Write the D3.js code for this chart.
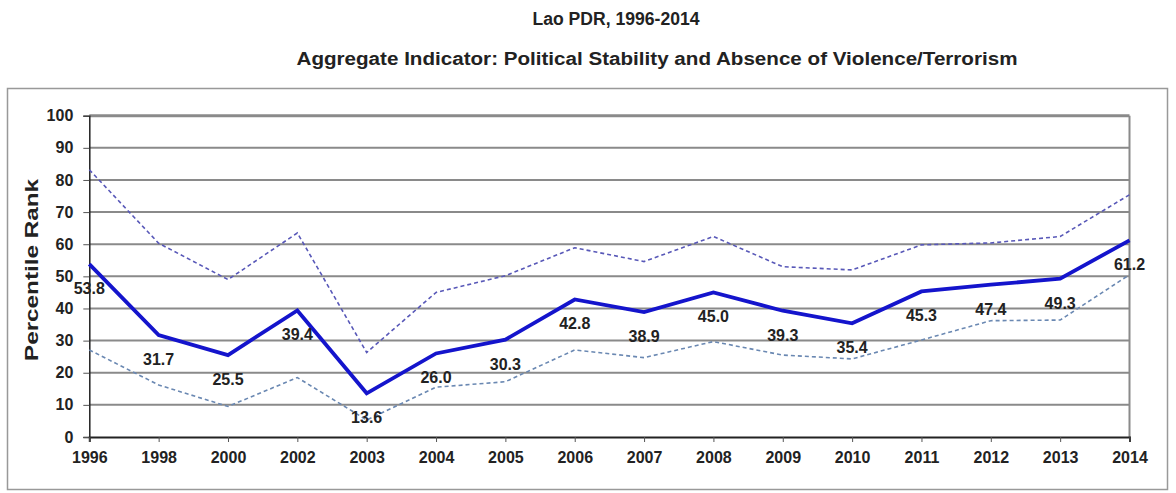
<!DOCTYPE html>
<html><head><meta charset="utf-8">
<script src="https://cdn.jsdelivr.net/npm/d3@7/dist/d3.min.js"></script>
<style>body{margin:0;background:#fff}svg{display:block}text{font-family:"Liberation Sans",Arial,sans-serif;font-weight:bold;fill:#222}</style>
</head><body><svg id="c" width="1176" height="493"></svg>
<script>
const categories = ["1996","1998","2000","2002","2003","2004","2005","2006","2007","2008","2009","2010","2011","2012","2013","2014"];
const estimate = [53.8,31.7,25.5,39.4,13.6,26.0,30.3,42.8,38.9,45.0,39.3,35.4,45.3,47.4,49.3,61.2];
const upper = [83.2,60.3,49.0,63.5,26.3,45.0,50.2,58.9,54.6,62.4,53.0,52.0,59.8,60.4,62.4,75.4];
const lower = [27.1,16.2,9.5,18.5,5.3,15.5,17.2,27.1,24.7,29.7,25.5,24.3,30.2,36.2,36.4,50.5];
const yTicks = [0,10,20,30,40,50,60,70,80,90,100];
const title1 = "Lao PDR, 1996-2014";
const title2 = "Aggregate Indicator: Political Stability and Absence of Violence/Terrorism";
const yLabel = "Percentile Rank";

const svg = d3.select("#c");
const L = 89.3, R = 1129.5, T = 115.7, B = 437;
const x = d3.scalePoint().domain(categories).range([L, R]);
const y = d3.scaleLinear().domain([0,100]).range([B, T]);

svg.append("rect").attr("x",7.5).attr("y",88.5).attr("width",1160).attr("height",401)
  .attr("fill","none").attr("stroke","#999").attr("stroke-width",1.5);

svg.append("text").attr("x",616).attr("y",25).attr("text-anchor","middle").style("font-size","18px")
  .attr("textLength",167).attr("lengthAdjust","spacingAndGlyphs").text(title1);
svg.append("text").attr("x",657).attr("y",65).attr("text-anchor","middle").style("font-size","18px")
  .attr("textLength",721).attr("lengthAdjust","spacingAndGlyphs").text(title2);

svg.append("g").selectAll("line").data(yTicks.filter(d=>d>0)).join("line")
  .attr("x1",L).attr("x2",R).attr("y1",d=>y(d)).attr("y2",d=>y(d))
  .attr("stroke","#8a8a8a").attr("stroke-width",d=>d===100?3:2);
svg.append("line").attr("x1",R).attr("x2",R).attr("y1",T).attr("y2",B).attr("stroke","#8a8a8a").attr("stroke-width",2);

const ya = svg.append("g").attr("transform",`translate(${L},0)`)
  .call(d3.axisLeft(y).tickValues(yTicks).tickSize(6).tickPadding(10));
ya.select(".domain").attr("stroke","#222").attr("stroke-width",1.5);
ya.selectAll(".tick line").attr("stroke","#555");
ya.selectAll("text").attr("font-size",16).style("font-size","16px").style("font-family","Liberation Sans, Arial").style("font-weight","bold").attr("fill","#222");

const xa = svg.append("g").attr("transform",`translate(0,${B})`)
  .call(d3.axisBottom(x).tickSize(5).tickPadding(10));
xa.select(".domain").attr("stroke","#222").attr("stroke-width",2);
xa.selectAll(".tick line").attr("stroke","#555");
xa.selectAll("text").attr("font-size",16).style("font-size","16px").style("font-family","Liberation Sans, Arial").style("font-weight","bold").attr("fill","#222");

svg.append("text").attr("transform",`translate(38,${270}) rotate(-90)`).attr("text-anchor","middle")
  .style("font-size","18px").attr("textLength",182).attr("lengthAdjust","spacingAndGlyphs").text(yLabel);

const line = d3.line().x((d,i)=>x(categories[i])).y(d=>y(d));
svg.append("path").datum(upper).attr("d",line).attr("fill","none").attr("stroke","#5858b8").attr("stroke-width",1.6).attr("stroke-dasharray","4,3");
svg.append("path").datum(lower).attr("d",line).attr("fill","none").attr("stroke","#6a88b2").attr("stroke-width",1.6).attr("stroke-dasharray","4,3");
svg.append("path").datum(estimate).attr("d",line).attr("fill","none").attr("stroke","#1414cc").attr("stroke-width",3.8).attr("stroke-linejoin","miter");

svg.append("g").selectAll("text").data(estimate).join("text")
  .attr("x",(d,i)=>x(categories[i])).attr("y",d=>y(d)+30)
  .attr("text-anchor","middle").style("font-size","16px").text(d=>d.toFixed(1));
</script></body></html>
